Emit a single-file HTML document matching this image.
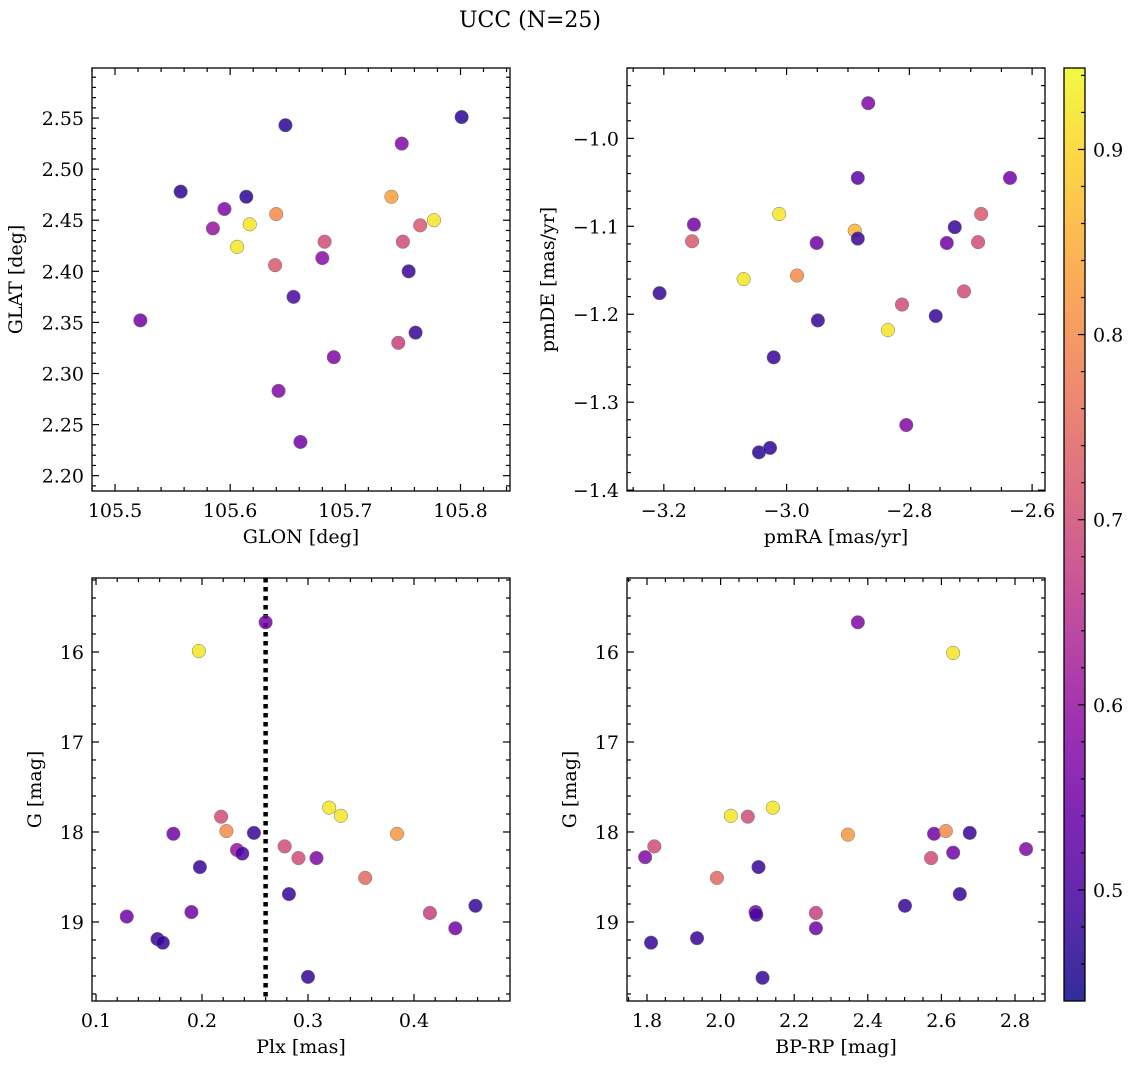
<!DOCTYPE html>
<html><head><meta charset="utf-8"><style>
body{margin:0;background:#fff;}
svg text{font-family:"DejaVu Serif","Liberation Serif",serif;fill:#000;}
</style></head><body>
<svg id="fig" width="1136" height="1068" xmlns="http://www.w3.org/2000/svg">
<text x="530" y="27" font-size="22" text-anchor="middle">UCC (N=25)</text>
</svg>
<script>
// Panel 1: GLON vs GLAT
const glonX=[105.522,105.557,105.595,105.585,105.614,105.617,105.606,105.640,105.639,105.648,105.655,105.642,105.661,105.680,105.682,105.690,105.740,105.749,105.750,105.746,105.755,105.761,105.765,105.777,105.801];
const glatY=[2.352,2.478,2.461,2.442,2.473,2.446,2.424,2.456,2.406,2.543,2.375,2.283,2.233,2.413,2.429,2.316,2.473,2.525,2.429,2.330,2.400,2.340,2.445,2.450,2.551];
const glC=[0.55,0.47,0.57,0.6,0.47,0.92,0.92,0.8,0.72,0.47,0.5,0.57,0.55,0.58,0.7,0.57,0.83,0.57,0.7,0.68,0.48,0.48,0.72,0.92,0.47];
// Panel 2: pmRA vs pmDE
const pmraX=[-3.207,-3.154,-3.151,-3.070,-3.045,-3.027,-3.021,-3.012,-2.983,-2.951,-2.949,-2.889,-2.884,-2.884,-2.867,-2.835,-2.812,-2.805,-2.757,-2.739,-2.726,-2.711,-2.688,-2.683,-2.636];
const pmdeY=[-1.176,-1.117,-1.098,-1.160,-1.357,-1.352,-1.249,-1.086,-1.156,-1.119,-1.207,-1.105,-1.114,-1.045,-0.960,-1.218,-1.189,-1.326,-1.202,-1.119,-1.101,-1.174,-1.118,-1.086,-1.045];
const pmC=[0.48,0.72,0.55,0.92,0.47,0.47,0.48,0.92,0.8,0.55,0.48,0.86,0.48,0.52,0.57,0.92,0.7,0.57,0.48,0.55,0.48,0.7,0.7,0.72,0.55];
// Panel 3: Plx vs G
const plxX=[0.129,0.158,0.163,0.173,0.190,0.197,0.198,0.218,0.223,0.233,0.238,0.249,0.260,0.278,0.282,0.291,0.300,0.308,0.320,0.331,0.354,0.384,0.415,0.439,0.458];
const gPlxY=[18.94,19.19,19.23,18.02,18.89,15.99,18.39,17.83,17.99,18.20,18.24,18.01,15.67,18.16,18.69,18.29,19.61,18.29,17.73,17.82,18.51,18.02,18.90,19.07,18.82];
const plxC=[0.55,0.48,0.48,0.55,0.55,0.92,0.48,0.7,0.8,0.6,0.5,0.48,0.55,0.7,0.48,0.7,0.48,0.57,0.92,0.92,0.75,0.82,0.68,0.55,0.48];
const plxLine=[0.260];
// Panel 4: BP-RP vs G
const bprpX=[1.795,1.820,1.811,1.936,1.990,2.028,2.074,2.095,2.097,2.103,2.114,2.142,2.259,2.259,2.346,2.373,2.501,2.572,2.580,2.612,2.632,2.632,2.677,2.650,2.830];
const gColY=[18.28,18.16,19.23,19.18,18.51,17.82,17.83,18.89,18.92,18.39,19.62,17.73,18.90,19.07,18.03,15.67,18.82,18.29,18.02,17.99,16.01,18.23,18.01,18.69,18.19];
const colC=[0.57,0.7,0.48,0.48,0.75,0.92,0.7,0.55,0.5,0.48,0.48,0.92,0.68,0.55,0.82,0.57,0.48,0.7,0.55,0.8,0.92,0.55,0.48,0.48,0.57];
const cbTicks=[0.5,0.6,0.7,0.8,0.9];

const NS="http://www.w3.org/2000/svg";
const svg=document.getElementById('fig');
function mk(t,a,p){const e=document.createElementNS(NS,t);for(const k in a)e.setAttribute(k,a[k]);(p||svg).appendChild(e);return e;}
const VMIN=0.44,VMAX=0.944;
const stops=["#0d0887","#41049d","#6a00a8","#8f0da4","#b12a90","#cc4778","#e16462","#f2844b","#fca636","#fcce25","#f0f921"];
function hx(h){return [1,3,5].map(i=>parseInt(h.substr(i,2),16));}
function plasma(t){t=Math.max(0,Math.min(1,t));const f=t*10,i=Math.min(9,Math.floor(f)),r=f-i;const a=hx(stops[i]),b=hx(stops[i+1]);return 'rgb('+a.map((v,k)=>Math.round(v+(b[k]-v)*r)).join(',')+')';}
function cmap(v){return plasma((v-VMIN)/(VMAX-VMIN));}
function fmt(v,d){return (v<0?'\u2212':'')+Math.abs(v).toFixed(d);}
const FS=19;

function panel(o){
  const g=mk('g',{});
  
  
  const {L,T,R,B}=o;
  const sx=v=>L+(v-o.x0)/(o.x1-o.x0)*(R-L);
  const sy=o.inv?(v=>T+(v-o.y0)/(o.y1-o.y0)*(B-T)):(v=>B-(v-o.y0)/(o.y1-o.y0)*(B-T));
  function ticks(lo,hi,step){const r=[];const s=Math.ceil(lo/step-1e-6);for(let k=s;k*step<=hi+1e-9;k++)r.push(+(k*step).toFixed(6));return r;}
  const tg=mk('g',{stroke:'#000','stroke-width':1.2},g);
  
  
  ticks(o.x0,o.x1,o.xmin).forEach(v=>{const x=sx(v);const maj=Math.abs(v/o.xmaj-Math.round(v/o.xmaj))<1e-4;const l=maj?7:4;mk('line',{x1:x,x2:x,y1:B,y2:B-l},tg);mk('line',{x1:x,x2:x,y1:T,y2:T+l},tg);});
  ticks(Math.min(o.y0,o.y1),Math.max(o.y0,o.y1),o.ymin).forEach(v=>{const y=sy(v);const maj=Math.abs(v/o.ymaj-Math.round(v/o.ymaj))<1e-4;const l=maj?7:4;mk('line',{x1:L,x2:L+l,y1:y,y2:y},tg);mk('line',{x1:R,x2:R-l,y1:y,y2:y},tg);});
  ticks(o.x0,o.x1,o.xmaj).forEach(v=>{const t=mk('text',{x:sx(v),y:B+26,'font-size':FS,'text-anchor':'middle'},g);t.textContent=fmt(v,o.xd);});
  ticks(Math.min(o.y0,o.y1),Math.max(o.y0,o.y1),o.ymaj).forEach(v=>{const t=mk('text',{x:L-8,y:sy(v)+7,'font-size':FS,'text-anchor':'end'},g);t.textContent=fmt(v,o.yd);});
  const xt=mk('text',{x:(L+R)/2,y:B+52,'font-size':FS,'text-anchor':'middle'},g);xt.textContent=o.xl;
  
  const yt=mk('text',{x:0,y:0,'font-size':FS,'text-anchor':'middle',transform:`translate(${o.ylx},${(T+B)/2}) rotate(-90)`},g);yt.textContent=o.yl;
  
  if(o.vline){o.vline.forEach(v=>{const ln=mk('line',{x1:sx(v),x2:sx(v),y1:T,y2:B,stroke:'#000','stroke-width':4.5,'stroke-dasharray':'4.5,4.5'},g);});}
  o.xs.forEach((xv,i)=>{const c=mk('circle',{cx:sx(xv),cy:sy(o.ys[i]),r:6.8,fill:cmap(o.cs[i]),'fill-opacity':0.85,stroke:'#777','stroke-width':0.5},g);
    });
  const fr=mk('rect',{x:L,y:T,width:R-L,height:B-T,fill:'none',stroke:'#000','stroke-width':1.3},g);
  
}
panel({name:'glon-glat-panel',L:92,T:68,R:510,B:491,x0:105.48,x1:105.843,y0:2.185,y1:2.599,xmaj:0.1,xmin:0.02,ymaj:0.05,ymin:0.01,xd:1,yd:2,xl:'GLON [deg]',yl:'GLAT [deg]',ylx:22,xs:glonX,ys:glatY,cs:glC});
panel({name:'proper-motion-panel',L:627,T:68,R:1045,B:491,x0:-3.26,x1:-2.579,y0:-1.401,y1:-0.920,xmaj:0.2,xmin:0.05,ymaj:0.1,ymin:0.02,xd:1,yd:1,xl:'pmRA [mas/yr]',yl:'pmDE [mas/yr]',ylx:554,xs:pmraX,ys:pmdeY,cs:pmC});
panel({name:'plx-g-panel',L:92,T:578,R:510,B:1001,inv:true,x0:0.0962,x1:0.4906,y0:15.178,y1:19.878,xmaj:0.1,xmin:0.02,ymaj:1,ymin:0.2,xd:1,yd:0,xl:'Plx [mas]',yl:'G [mag]',ylx:41,xs:plxX,ys:gPlxY,cs:plxC,vline:plxLine});
panel({name:'cmd-panel',L:627,T:578,R:1045,B:1001,inv:true,x0:1.7457,x1:2.8815,y0:15.178,y1:19.878,xmaj:0.2,xmin:0.05,ymaj:1,ymin:0.2,xd:1,yd:0,xl:'BP-RP [mag]',yl:'G [mag]',ylx:576,xs:bprpX,ys:gColY,cs:colC});

// colorbar
const cb=mk('g',{});


const CL=1064,CR=1085,CT=68,CB=1001;
const defs=mk('defs',{},cb);const lg=mk('linearGradient',{id:'cbg',x1:0,y1:1,x2:0,y2:0},defs);
for(let i=0;i<=20;i++){mk('stop',{offset:i/20,'stop-color':plasma(i/20),'stop-opacity':0.85},lg);}
mk('rect',{x:CL,y:CT,width:CR-CL,height:CB-CT,fill:'url(#cbg)',stroke:'#000','stroke-width':1.3},cb);
const cy=v=>CB-(v-VMIN)/(VMAX-VMIN)*(CB-CT);
for(let k=23;k<=47;k++){const v=k*0.02;const y=cy(v);const maj=k%5===0;mk('line',{x1:CR,x2:CR-(maj?7:4),y1:y,y2:y,stroke:'#000','stroke-width':1.2},cb);}
cbTicks.forEach(v=>{const t=mk('text',{x:CR+8,y:cy(v)+7,'font-size':FS},cb);t.textContent=v.toFixed(1);});
</script>
</body></html>
